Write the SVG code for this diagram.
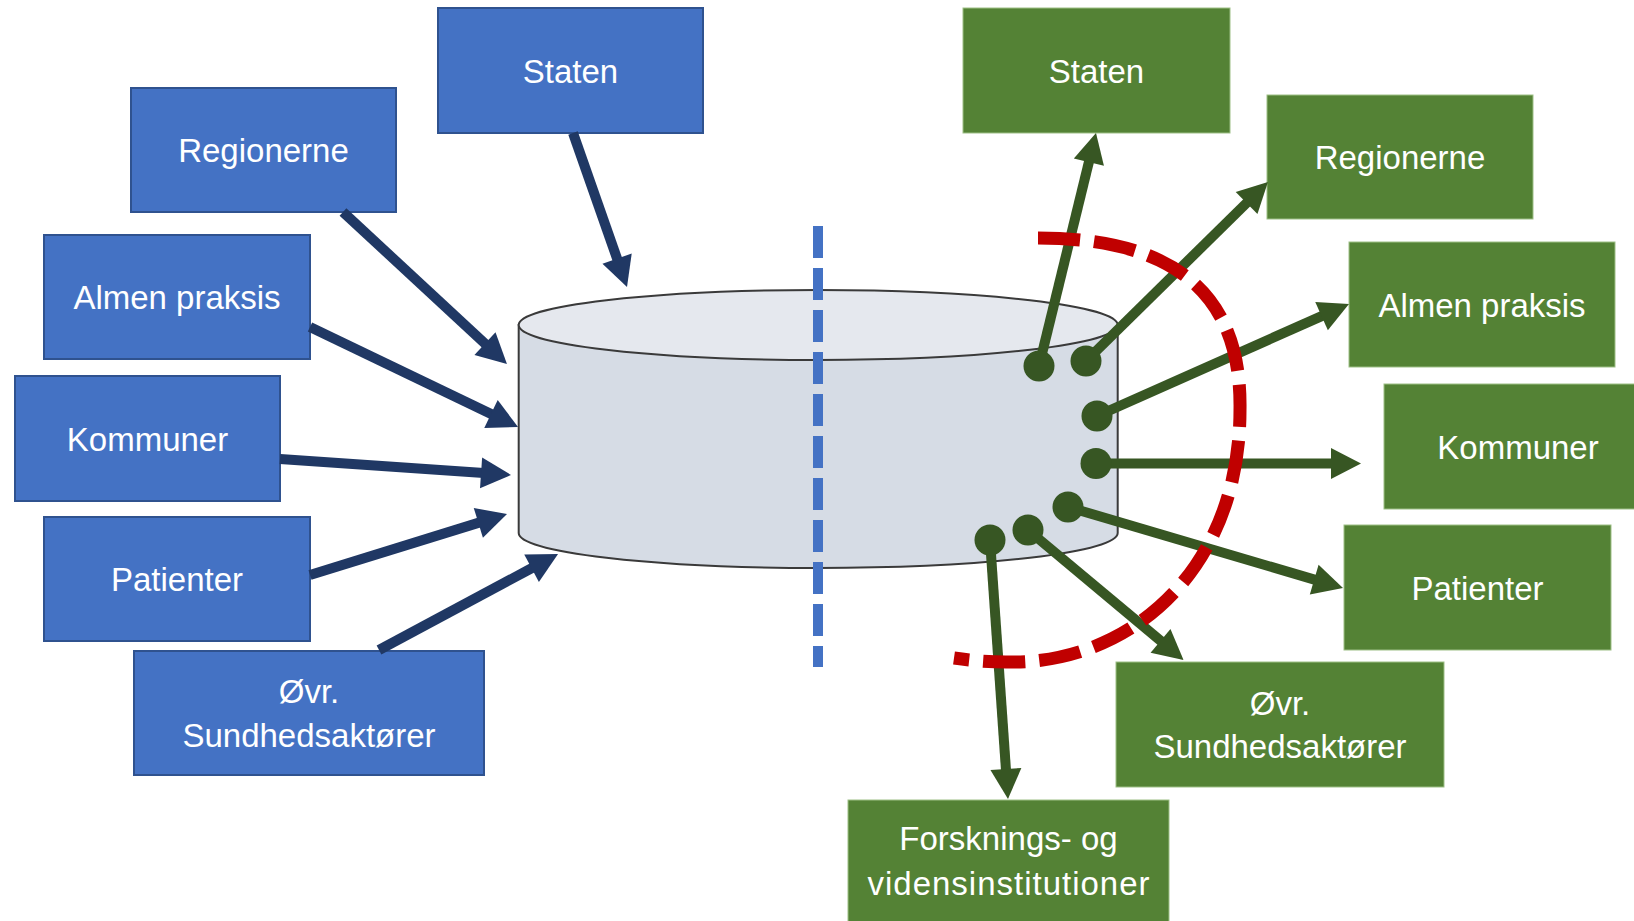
<svg xmlns="http://www.w3.org/2000/svg" width="1634" height="921" viewBox="0 0 1634 921">
  <style>
    .lbl { font-family: "Liberation Sans", Arial, sans-serif; font-size: 33px; fill: #FFFFFF; text-anchor: middle; }
    .src rect { fill: #4472C4; stroke: #2F528F; stroke-width: 2; }
    .dst rect { fill: #548235; stroke: #9DBF86; stroke-width: 1; }
    .in { stroke: #203864; stroke-width: 10; fill: none; marker-end: url(#headIn); }
    .out { stroke: #375623; stroke-width: 10; fill: none; marker-end: url(#headOut); }
    .dot { fill: #375623; }
  </style>
  <defs>
    <marker id="headIn" markerUnits="userSpaceOnUse" markerWidth="32" markerHeight="32" refX="10" refY="15.5" orient="auto" overflow="visible">
      <path d="M0,0 L30,15.5 L0,31 Z" fill="#203864"/>
    </marker>
    <marker id="headOut" markerUnits="userSpaceOnUse" markerWidth="32" markerHeight="32" refX="10" refY="15.5" orient="auto" overflow="visible">
      <path d="M0,0 L30,15.5 L0,31 Z" fill="#375623"/>
    </marker>
  </defs>

  <rect width="1634" height="921" fill="#FFFFFF"/>

  <!-- central data store -->
  <g id="store">
    <path d="M518.7,325 V533 A299.5,35 0 0 0 1117.7,533 V325 Z" fill="#D6DCE5" stroke="#3A3A3A" stroke-width="2"/>
    <ellipse cx="818.2" cy="325" rx="299.5" ry="35" fill="#E5E8EE" stroke="#3A3A3A" stroke-width="2"/>
  </g>

  <!-- source nodes (left) -->
  <g id="src-staten" class="src">
    <rect x="438" y="8" width="265" height="125"/>
    <text class="lbl" x="570.5" y="82.5">Staten</text>
  </g>
  <g id="src-regionerne" class="src">
    <rect x="131" y="88" width="265" height="124"/>
    <text class="lbl" x="263.5" y="162">Regionerne</text>
  </g>
  <g id="src-almen" class="src">
    <rect x="44" y="235" width="266" height="124"/>
    <text class="lbl" x="177" y="309">Almen praksis</text>
  </g>
  <g id="src-kommuner" class="src">
    <rect x="15" y="376" width="265" height="125"/>
    <text class="lbl" x="147.5" y="450.5">Kommuner</text>
  </g>
  <g id="src-patienter" class="src">
    <rect x="44" y="517" width="266" height="124"/>
    <text class="lbl" x="177" y="591">Patienter</text>
  </g>
  <g id="src-oevr" class="src">
    <rect x="134" y="651" width="350" height="124"/>
    <text class="lbl" x="309" y="703">Øvr.</text>
    <text class="lbl" x="309" y="747">Sundhedsaktører</text>
  </g>

  <!-- recipient nodes (right) -->
  <g id="dst-staten" class="dst">
    <rect x="963" y="8" width="267" height="125"/>
    <text class="lbl" x="1096.5" y="82.5">Staten</text>
  </g>
  <g id="dst-regionerne" class="dst">
    <rect x="1267" y="95" width="266" height="124"/>
    <text class="lbl" x="1400" y="169">Regionerne</text>
  </g>
  <g id="dst-almen" class="dst">
    <rect x="1349" y="242" width="266" height="125"/>
    <text class="lbl" x="1482" y="316.5">Almen praksis</text>
  </g>
  <g id="dst-kommuner" class="dst">
    <rect x="1384" y="384" width="268" height="125"/>
    <text class="lbl" x="1518" y="458.5">Kommuner</text>
  </g>
  <g id="dst-patienter" class="dst">
    <rect x="1344" y="525" width="267" height="125"/>
    <text class="lbl" x="1477.5" y="599.5">Patienter</text>
  </g>
  <g id="dst-oevr" class="dst">
    <rect x="1116" y="662" width="328" height="125"/>
    <text class="lbl" x="1280" y="715">Øvr.</text>
    <text class="lbl" x="1280" y="758">Sundhedsaktører</text>
  </g>
  <g id="dst-forsk" class="dst">
    <rect x="848" y="800" width="321" height="125"/>
    <text class="lbl" x="1008.5" y="850">Forsknings- og</text>
    <text class="lbl" x="1008.5" y="895" textLength="282" lengthAdjust="spacing">vidensinstitutioner</text>
  </g>

  <!-- divider -->
  <line id="divider" x1="818" y1="226" x2="818" y2="667" stroke="#4472C4" stroke-width="10" stroke-dasharray="32 10"/>

  <g id="connectors">
    <!-- incoming data -->
    <line class="in" x1="573" y1="133" x2="620.4" y2="268.1"/>
    <line class="in" x1="343" y1="212" x2="492.3" y2="350.4"/>
    <line class="in" x1="310" y1="327" x2="500" y2="418.3"/>
    <line class="in" x1="280" y1="459" x2="491.05" y2="473.6"/>
    <line class="in" x1="310" y1="575" x2="487.9" y2="519.9"/>
    <line class="in" x1="379" y1="650" x2="540.4" y2="563.5"/>

    <!-- outgoing data -->
    <line class="out" x1="1039" y1="366" x2="1091.25" y2="152.4"/>
    <line class="out" x1="1086" y1="361" x2="1253.7" y2="196"/>
    <line class="out" x1="1097" y1="416" x2="1330.7" y2="312.1"/>
    <line class="out" x1="1096" y1="463.5" x2="1341" y2="463.5"/>
    <line class="out" x1="1068" y1="507" x2="1323.8" y2="582.35"/>
    <line class="out" x1="1028" y1="530" x2="1168.2" y2="647.2"/>
    <line class="out" x1="990" y1="540" x2="1006.6" y2="779"/>

    <circle class="dot" cx="1039" cy="366" r="15.5"/>
    <circle class="dot" cx="1086" cy="361" r="15.5"/>
    <circle class="dot" cx="1097" cy="416" r="15.5"/>
    <circle class="dot" cx="1096" cy="463.5" r="15.5"/>
    <circle class="dot" cx="1068" cy="507" r="15.5"/>
    <circle class="dot" cx="1028" cy="530" r="15.5"/>
    <circle class="dot" cx="990" cy="540" r="15.5"/>

    <!-- boundary -->
    <path id="boundary" d="M1038,238 C1170,238 1242,290 1240,410 C1240,570 1130,665 1006,662 C985,662 968,660 954,658" fill="none" stroke="#C00000" stroke-width="13" stroke-dasharray="42 14"/>
  </g>
</svg>
